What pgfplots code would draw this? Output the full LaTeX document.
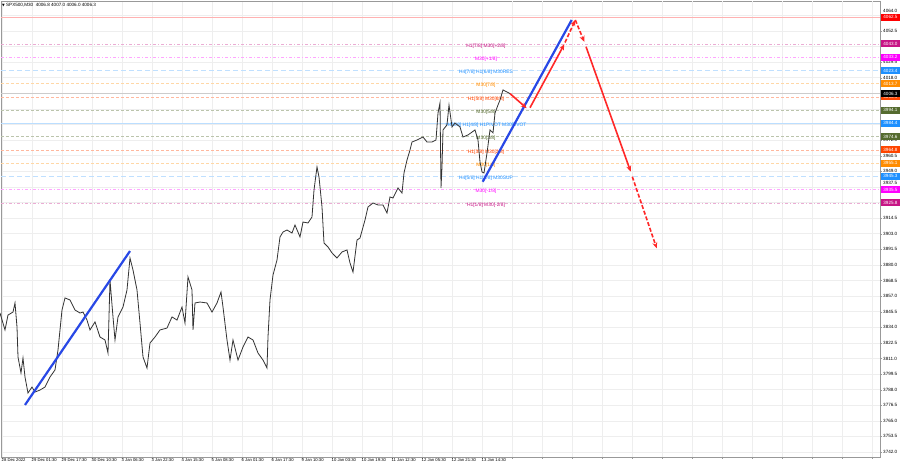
\documentclass[border=0pt]{standalone}
\usepackage{fontspec}
\setmainfont{Liberation Sans}
\newfontfamily\dejavu{DejaVu Sans}
\usepackage{pgfplots}
\pgfplotsset{compat=1.18}
\usetikzlibrary{arrows.meta}
\definecolor{mvred}{RGB}{199,21,133}
\definecolor{mag}{RGB}{255,0,255}
\definecolor{dblue}{RGB}{30,144,255}
\definecolor{dorange}{RGB}{255,140,0}
\definecolor{ored}{RGB}{255,69,0}
\definecolor{olive2}{RGB}{85,107,47}
\definecolor{arrred}{RGB}{255,40,40}
\definecolor{arrblue}{RGB}{40,72,230}
\pgfplotstableread{
x y
0 3844.5
5 3832.0
8 3843.0
13 3845.2
15 3851.9
17 3834.2
18 3812.1
21 3800.3
23 3811.3
25 3797.3
28 3785.5
32 3789.9
35 3786.2
40 3787.7
45 3789.9
50 3797.3
55 3802.5
58 3817.2
62 3846.7
65 3855.6
70 3854.1
75 3846.7
80 3844.5
83 3845.2
87 3839.3
90 3832.0
95 3837.9
100 3826.8
105 3824.6
108 3815.0
110 3868.8
113 3841.6
115 3824.6
118 3841.6
123 3848.9
127 3861.5
130 3885.1
133 3876.2
137 3861.5
140 3837.1
143 3812.1
147 3803.9
150 3822.4
155 3826.8
160 3832.0
167 3833.4
172 3841.6
177 3839.3
182 3848.9
185 3837.1
188 3871.1
192 3861.5
193 3832.0
195 3851.9
200 3852.6
207 3851.9
212 3845.2
217 3851.9
221 3860.0
223 3848.9
227 3824.6
230 3809.8
233 3824.6
238 3809.8
243 3819.4
248 3826.8
253 3824.6
258 3815.0
263 3809.8
267 3803.9
268 3826.8
270 3854.1
273 3872.5
277 3883.6
280 3900.6
283 3904.2
287 3905.7
292 3903.5
295 3909.4
300 3900.6
303 3911.6
308 3910.9
312 3915.3
314 3935.2
317 3952.2
319 3944.8
322 3922.7
324 3896.1
328 3893.2
332 3888.8
337 3885.1
342 3889.5
347 3891.0
350 3881.4
353 3874.7
357 3898.3
360 3899.8
365 3913.1
368 3922.7
373 3925.6
378 3924.2
383 3924.2
387 3918.3
390 3930.1
393 3929.3
398 3936.7
402 3933.0
404 3947.8
407 3957.3
410 3964.7
412 3970.6
417 3972.1
423 3974.3
427 3970.6
432 3970.6
436 3972.1
438 3992.0
440 3999.4
441 3936.7
442 3952.2
443 3979.5
447 3983.2
449 3997.9
452 3981.7
455 3984.6
460 3981.7
463 3974.3
468 3975.8
475 3979.5
478 3972.1
480 3955.9
482 3948.5
484 3947.8
487 3962.5
490 3979.5
493 3977.3
495 3992.0
498 3997.9
500 4001.6
503 4009.0
507 4007.5
510 4006.3
}\price
\newcommand{\lvl}[5]{% price, linecolor, textcolor, label, style
  \addplot[#2, #5] coordinates {(1,#1) (880,#1)};
  \node[text=#3, font=\fontsize{4.9}{5}\selectfont, inner sep=0pt, yshift=-2pt] at (axis cs:486,#1) {#4};
}
\newcommand{\tag}[3]{% price, fill, text
  \node[fill=#2, text=#3, anchor=west, inner sep=0pt, minimum width=19.5pt, minimum height=7pt, font=\fontsize{4.6}{5}\selectfont] at (axis cs:880.5,#1) {#1};
}
\begin{document}
\begin{tikzpicture}
\useasboundingbox (0,0) rectangle (900pt,468pt);
\fill[white] (0,0) rectangle (900pt,468pt);
\begin{axis}[
  at={(1pt,11pt)}, anchor=south west,
  width=879pt, height=456pt, scale only axis,
  xmin=1, xmax=880, ymin=3738.31, ymax=4074.6,
  clip=false,
  axis line style={draw=gray!80, line width=0.6pt},
  xtick={2,32,...,482},
  xticklabels={28 Dec 2022,29 Dec 01:30,29 Dec 17:30,30 Dec 10:30,3 Jan 06:30,3 Jan 22:30,4 Jan 15:30,5 Jan 08:30,6 Jan 01:30,6 Jan 17:30,9 Jan 10:30,10 Jan 03:30,10 Jan 19:30,11 Jan 12:30,12 Jan 05:30,12 Jan 21:30,13 Jan 14:30},
  extra x ticks={512,542,...,872}, extra x tick labels={},
  ytick={3742,3753.5,3765,3776.5,3788,3799.5,3811,3822.5,3834,3845.5,3857,3868.5,3880,3891.5,3903,3914.5,3926,3937.5,3949,3960.5,3972,3983.5,3995,4006.5,4018,4029.5,4041,4052.5,4064},
  yticklabels={3742.0,3753.5,3765.0,3776.5,3788.0,3799.5,3811.0,3822.5,3834.0,3845.5,3857.0,3868.5,3880.0,3891.5,3903.0,3914.5,,,3949.0,3960.5,3972.0,,,,4018.0,4029.5,,4052.5,},
  ytick pos=right, yticklabel pos=right, xtick pos=bottom,
  tick align=outside, major tick length=2pt,
  tick style={draw=gray!80},
  grid=major, major grid style={draw=gray!13, line width=0.5pt},
  xticklabel style={font=\fontsize{4.2}{4.5}\selectfont, anchor=north west, xshift=-1pt, yshift=1.5pt, inner sep=0.5pt},
  yticklabel style={font=\fontsize{4.6}{5}\selectfont, anchor=west, xshift=0pt, inner sep=1pt},
]
% levels
\addplot[red!30, line width=1.3pt] coordinates {(1,4062.5) (880,4062.5)};
\lvl{4043.0}{mvred!35}{mvred}{H1[7/8] M30[+2/8]}{line width=0.5pt, dash pattern=on 3pt off 2pt on 1pt off 2pt}
\lvl{4033.2}{mag!35}{mag}{M30[+1/8]}{line width=0.5pt, dash pattern=on 3pt off 2pt on 1pt off 2pt}
\lvl{4023.4}{dblue!28}{dblue}{H4[7/8] H1[6/8] M30RES}{line width=1.3pt, dash pattern=on 5pt off 3pt}
\lvl{4013.7}{dorange!35}{dorange}{M30[7/8]}{line width=0.5pt, dash pattern=on 3pt off 2pt}
\addplot[gray!40, line width=1.1pt] coordinates {(1,4006.3) (880,4006.3)};
\lvl{4003.9}{ored!38}{ored}{H1[5/8] M30[6/8]}{line width=0.5pt, dash pattern=on 3pt off 2pt}
\lvl{3994.1}{olive2!40}{olive2}{M30[5/8]}{line width=0.5pt, dash pattern=on 3pt off 2pt}
\lvl{3984.4}{dblue!30}{dblue}{H4[6/8] H1[4/8] H1PIVOT M30PIVOT}{line width=1.4pt}
\lvl{3974.6}{olive2!40}{olive2}{M30[3/8]}{line width=0.5pt, dash pattern=on 3pt off 2pt}
\lvl{3964.8}{ored!38}{ored}{H1[3/8] M30[2/8]}{line width=0.5pt, dash pattern=on 3pt off 2pt}
\lvl{3955.1}{dorange!35}{dorange}{M30[1/8]}{line width=0.5pt, dash pattern=on 3pt off 2pt}
\lvl{3945.3}{dblue!28}{dblue}{H4[5/8] H1[2/8] M30SUP}{line width=1.3pt, dash pattern=on 5pt off 3pt}
\lvl{3935.5}{mag!35}{mag}{M30[-1/8]}{line width=0.5pt, dash pattern=on 3pt off 2pt on 1pt off 2pt}
\lvl{3925.8}{mvred!35}{mvred}{H1[1/8] M30[-2/8]}{line width=0.5pt, dash pattern=on 3pt off 2pt on 1pt off 2pt}
% price
\addplot[black!80, line width=0.8pt] table[x=x, y=y] {\price};
% blue lines
\addplot[arrblue, line width=2.2pt] coordinates {(25,3776.7) (130,3890.2)};
\addplot[arrblue, line width=2.2pt] coordinates {(482.7,3941.3) (571.7,4060.6)};
% red arrows
\addplot[arrred, line width=1.6pt, -{Stealth[length=6pt,width=5pt]}] coordinates {(510,4006.3) (526.7,3995.5)};
\addplot[arrred, line width=1.6pt, -{Stealth[length=6pt,width=5pt]}] coordinates {(530,3995.9) (564.3,4042.7)};
\addplot[arrred, line width=1.6pt, dash pattern=on 4pt off 2pt, -{Stealth[length=6pt,width=5pt]}] coordinates {(565,4044) (575.3,4060.6)};
\addplot[arrred, line width=1.6pt, dash pattern=on 4pt off 2pt, -{Stealth[length=6pt,width=5pt]}] coordinates {(575.3,4060.6) (584.3,4044.5)};
\addplot[arrred, line width=1.6pt, -{Stealth[length=6pt,width=5pt]}] coordinates {(586,4040.9) (630.7,3948.7)};
\addplot[arrred, line width=1.6pt, dash pattern=on 4pt off 2pt, -{Stealth[length=6pt,width=5pt]}] coordinates {(632.3,3945.0) (656.7,3892.2)};
% tick labels partly covered by tags in the reference, nudged just above them
\node[anchor=west, inner sep=1pt, font=\fontsize{4.6}{5}\selectfont, yshift=4.5pt] at (axis cs:882,4064) {4064.0};
\node[anchor=west, inner sep=1pt, font=\fontsize{4.6}{5}\selectfont, yshift=3.5pt] at (axis cs:882,3937.5) {3937.5};
% tags
\tag{4062.5}{red}{white}
\tag{4043.0}{mvred}{white}
\tag{4033.2}{mag}{white}
\tag{4023.4}{dblue}{white}
\tag{4013.7}{dorange}{white}
\tag{4003.9}{ored}{white}
\tag{4006.3}{black}{white}
\tag{3994.1}{olive2}{white}
\tag{3984.4}{dblue}{white}
\tag{3974.6}{olive2}{white}
\tag{3964.8}{ored}{white}
\tag{3955.1}{dorange}{white}
\tag{3945.3}{dblue}{white}
\tag{3935.5}{mag}{white}
\tag{3925.8}{mvred}{white}
\end{axis}
\node[anchor=west, inner sep=0pt, font=\fontsize{4.6}{5}\selectfont] at (2pt,463pt) {{\dejavu\fontsize{3.5}{4}\selectfont ▼}\ SPX500,M30\ \ 4006.8 4007.0 4006.0 4006.3};
\end{tikzpicture}
\end{document}
